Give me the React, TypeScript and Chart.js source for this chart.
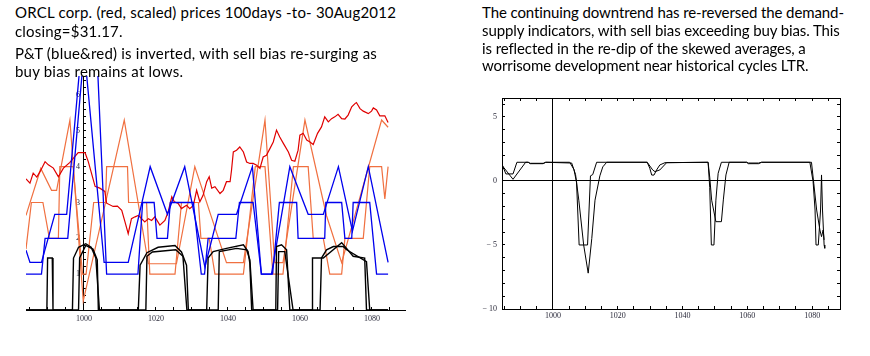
import React, { useEffect, useRef } from "react";
import { Chart, registerables } from "chart.js";
Chart.register(...registerables);

// ---------- text ----------
const leftNote = [
  "ORCL corp. (red, scaled) prices 100days -to- 30Aug2012",
  "closing=$31.17.",
  "P&T (blue&red) is inverted, with sell bias re-surging as",
  "buy bias remains at lows.",
];
const leftNoteBaselines = [17, 36, 58, 76];
const rightNote = [
  "The continuing downtrend has re-reversed the demand-",
  "supply indicators, with sell bias exceeding buy bias. This",
  "is reflected in the re-dip of the skewed averages, a",
  "worrisome development near historical cycles LTR.",
];
const rightNoteBaselines = [17, 35, 52.5, 70];

// ---------- left chart data (day, value) ----------
const priceScaled: [number, number][] = [
  [983.9,3.66],[985,3.54],[985.9,3.82],[986.9,3.71],[987.8,3.86],[989.2,4.14],[990.1,4.05],[991.5,3.96],[992.9,3.72],[994.3,3.96],
  [996.1,4.12],[998.4,4.39],[1000.3,4.39],[1001.2,4.14],[1003.1,3.45],[1004.4,3.40],[1005.8,3.31],[1006.3,2.98],[1008.1,2.89],[1009.3,2.90],
  [1010.5,2.78],[1011.4,2.46],[1012.3,2.13],[1013.2,2.55],[1014.2,2.60],[1015.1,2.64],[1016,2.55],[1016.9,2.46],[1017.9,2.55],[1018.8,2.50],
  [1019.7,2.60],[1021.1,2.37],[1022.5,2.50],[1023.4,2.74],[1024.4,3.16],[1025.1,3.02],[1026.2,2.97],[1027.1,2.83],[1028.5,2.92],[1029.4,2.83],
  [1030.4,2.92],[1031.3,3.34],[1032.2,3.02],[1033.1,3.20],[1034.1,3.58],[1034.8,3.72],[1035.5,3.40],[1036.4,3.44],[1037.8,3.25],[1038.7,3.34],
  [1039.6,3.58],[1040.6,3.58],[1041,3.90],[1041.5,4.41],[1042.4,4.46],[1043.3,4.55],[1044.3,4.41],[1045.2,4.13],[1046.1,4.09],[1047,4.09],
  [1048,4.04],[1048.9,3.95],[1049.8,4.27],[1050.7,4.32],[1051.7,4.51],[1052.6,4.69],[1053.5,5.02],[1054.4,4.83],[1055.4,4.65],[1056.8,4.41],
  [1057.7,4.18],[1058.6,4.15],[1059.5,4.46],[1060,4.88],[1060.9,4.93],[1061.9,4.74],[1062.8,4.69],[1063.7,4.62],[1064.9,4.93],[1066,5.11],
  [1066.9,5.39],[1067.9,5.25],[1068.8,5.34],[1069.7,5.39],[1070.6,5.46],[1071.6,5.34],[1072.5,5.33],[1073.4,5.44],[1074.4,5.67],[1075.3,5.76],
  [1075.7,5.79],[1076.7,5.62],[1077.6,5.55],[1079,5.48],[1079.9,5.55],[1080.4,5.64],[1081.3,5.58],[1082.2,5.42],[1083.6,5.42],[1084.5,5.23],
];
const blueTrend: [number, number][] = [
  [983.9,1.67],[985,1.33],[988.2,1.33],[991.9,2.67],[995.2,2.67],[998.6,6.5],[999.7,7.7],[1000.8,6.5],[1005.6,1.33],[1012.3,1.33],
  [1018.4,4.0],[1023.2,2.67],[1028,4.0],[1033.6,1.2],[1037.3,2.67],[1042.4,2.67],[1046.8,4.0],[1049.3,1.0],[1052.1,1.0],[1057.2,4.0],
  [1062.3,2.67],[1066.5,2.67],[1070.7,4.0],[1074.6,2.2],[1079,4.0],[1084.5,1.33],
];
const blueStep: [number, number][] = [
  [983.9,1.0],[988.2,1.0],[989.2,2.0],[995.5,2.0],[999.4,6.5],[1001.6,9.0],[1003.9,6.5],[1006.3,1.0],[1015,1.0],[1016.3,3.0],
  [1019.5,3.0],[1020.3,2.0],[1023.2,2.0],[1024,3.0],[1030.4,3.0],[1032.6,1.0],[1033.5,1.0],[1034.5,2.0],[1042.2,2.0],[1043.2,3.0],
  [1047,3.0],[1049.3,1.0],[1052.4,1.0],[1054.3,3.0],[1059.1,3.0],[1059.5,2.0],[1066.9,2.0],[1067.2,3.0],[1071.6,3.0],[1072.5,2.0],
  [1074.4,2.0],[1074.8,3.0],[1079.4,3.0],[1081.3,1.0],[1084.5,1.0],
];
const orangeTrend: [number, number][] = [
  [983.9,2.64],[988,3.95],[991,3.34],[992.4,3.34],[996.1,5.3],[999.8,0.25],[1011.2,5.3],[1017.9,1.29],[1025.7,1.29],[1030.8,4.0],
  [1039.6,1.32],[1044.3,1.32],[1050.3,5.3],[1053,1.32],[1055.3,1.32],[1061.4,5.3],[1067.4,2.63],[1071.6,1.32],[1082.7,5.3],[1084.5,5.1],
];
const orangeStep: [number, number][] = [
  [983.9,1.7],[985.4,3.0],[988.6,3.0],[990.4,2.0],[992.9,2.0],[993.3,4.0],[997,4.0],[999.6,1.0],[1000.6,1.0],[1002.7,3.0],
  [1006,3.0],[1006.3,4.0],[1012.1,4.0],[1012.4,3.0],[1017.4,3.0],[1018.3,1.0],[1025.3,1.0],[1027.1,3.0],[1031.8,3.0],[1032.5,2.0],
  [1034.8,2.0],[1036.4,1.0],[1044.3,1.0],[1047.6,4.0],[1050.3,4.0],[1052.5,1.0],[1055.3,1.0],[1058.2,4.0],[1062.3,4.0],[1063.7,2.0],
  [1066.5,2.0],[1068.3,1.0],[1071.6,1.0],[1072.5,2.0],[1077.6,2.0],[1079.4,4.0],[1082.7,4.0],[1083.6,3.1],[1084.5,4.0],
];
const blackBias1: [number, number][] = [
  [983.9,0],[989.7,0],[989.9,1.45],[991.2,1.45],[991.4,0],[996.8,0],[997.1,1.45],[998.5,1.75],[1000.5,1.85],[1002,1.75],
  [1003.3,1.45],[1004.3,0],[1015.1,0],[1015.6,1.25],[1017.5,1.6],[1020.6,1.75],[1025.3,1.8],[1027.1,1.62],[1028.5,1.25],[1029,0],
  [1034.1,0],[1034.5,1.45],[1035.9,1.63],[1039.6,1.72],[1044.3,1.82],[1045.6,1.63],[1046.1,1.3],[1046.6,0],[1053.3,0],[1053.5,1.77],
  [1054.9,1.82],[1056.3,1.68],[1057.2,0],[1063.4,0],[1063.5,1.45],[1066.5,1.45],[1071.6,1.88],[1074.8,1.5],[1078,1.45],[1078.5,0],
  [1084.5,0],
];
const blackBias2: [number, number][] = [
  [983.9,0],[998.5,0],[998.8,1.45],[1000.5,1.8],[1002.5,1.7],[1003.7,1.4],[1004,0],[1017.2,0],[1017.5,1.5],[1019,1.62],
  [1025.5,1.68],[1027.5,1.5],[1028.6,0],[1037.3,0],[1037.6,1.63],[1042.4,1.72],[1045.2,1.68],[1046.1,1.4],[1047,0],[1053.8,0],
  [1054.1,1.63],[1055.8,1.63],[1058.1,0],[1065.6,0],[1066,1.45],[1067.4,1.68],[1069.3,1.77],[1072,1.77],[1073,1.68],[1078.5,1.35],
  [1079.4,0],[1084.5,0],
];

// ---------- right chart data ----------
const skewAvg1: [number, number][] = [
  [984.2,1.38],[985.5,0.55],[987.7,0.55],[988.9,1.46],[992.4,1.46],[993,1.35],[997,1.35],[997.8,1.46],[1005.2,1.46],[1006.5,0.9],
  [1007.3,-0.1],[1008.1,-5.0],[1010.7,-5.0],[1011.6,0.4],[1012.3,0.5],[1013.5,1.46],[1029.1,1.46],[1029.9,1.0],[1030.5,0.46],[1031.2,0.46],
  [1032,0.86],[1033,1.25],[1034.6,1.43],[1047.9,1.46],[1048.4,-0.5],[1048.9,-5.0],[1049.7,-5.0],[1050.3,-1.5],[1051,0.6],[1052,1.46],
  [1059.8,1.46],[1060.3,1.35],[1063.5,1.35],[1064.4,1.46],[1079.3,1.46],[1080.3,-0.05],[1080.9,-2.27],[1081.2,-5.0],[1081.9,-5.0],[1082.6,-2.27],
  [1082.9,0.47],[1083.2,-2.27],[1083.7,-5.0],[1083.9,-5.26],
];
const skewAvg2: [number, number][] = [
  [984.2,1.25],[987.7,0.13],[991.6,1.46],[992.4,1.46],[993,1.38],[997,1.38],[997.8,1.46],[1005.8,1.40],[1007,0.5],[1008,-1.5],
  [1009.5,-5.0],[1010.9,-7.2],[1012,-4.5],[1013,-1.5],[1014.5,0.4],[1015.4,1.1],[1016.6,1.46],[1029.1,1.46],[1030.8,0.86],[1031.5,0.73],
  [1033,0.86],[1035.1,1.43],[1047.9,1.46],[1048.4,0.3],[1049,-1.5],[1050.3,-3.18],[1052,-3.18],[1052.6,-1.48],[1053.4,0.47],[1054.4,1.46],
  [1059.8,1.46],[1060.3,1.4],[1063.5,1.4],[1064.4,1.46],[1079.8,1.46],[1080.5,-0.18],[1081.4,-2.27],[1082.4,-3.83],[1082.9,-4.35],[1083.4,-3.83],
  [1083.7,-4.6],
];

// ---------- axes ----------
const leftXRange = [983.9, 1089.2];
const leftYRange = [0, 6.53];
const leftXLabels = [1000, 1020, 1040, 1060, 1080];
const leftXMinorStep = 5;
const leftYLabels = [1, 2, 3, 4, 5, 6];
const leftYMinorStep = 0.2;
const rightXRange = [984.3, 1088.6];
const rightYRange = [-10, 6.48];
const rightXLabels = [1000, 1020, 1040, 1060, 1080];
const rightXMinorStep = 5;
const rightYLabels = [-10, -5, 0, 5];
const rightYMinorStep = 1;

function stepTicks(lo: number, hi: number, step: number) {
  const out: number[] = [];
  const start = Math.ceil(lo / step - 1e-9);
  for (let k = start; k * step <= hi + 1e-9; k++) out.push(Math.round(k * step * 1000) / 1000);
  return out;
}
const isIn = (arr: number[], v: number) => arr.some((a) => Math.abs(a - v) < 1e-6);

const tickFont = { family: "'Liberation Serif', serif", size: 8 };
const tickColor = "#2a2a3a";
const line = (pts: [number, number][], color: string, width: number) => ({
  data: pts.map(([x, y]) => ({ x, y })),
  borderColor: color,
  borderWidth: width,
  pointRadius: 0,
  fill: false,
  tension: 0,
});

function LeftChart() {
  const ref = useRef<HTMLCanvasElement>(null);
  useEffect(() => {
    const xt = stepTicks(leftXRange[0], leftXRange[1], leftXMinorStep);
    const yt = stepTicks(leftYRange[0] + 0.01, leftYRange[1], leftYMinorStep);
    const chart = new Chart(ref.current!, {
      type: "line",
      data: {
        datasets: [
          line(blackBias1, "#000", 1.4),
          line(blackBias2, "#000", 1.4),
          line(blueTrend, "#0000ee", 1.3),
          line(blueStep, "#0000ee", 1.3),
          line(priceScaled, "#e00000", 1.2),
          line(orangeTrend, "#f07040", 1.2),
          line(orangeStep, "#f07040", 1.2),
        ] as any,
      },
      options: {
        responsive: false,
        animation: false,
        layout: { padding: { left: 26, top: 16, right: 25, bottom: 10 } },
        plugins: { legend: { display: false }, tooltip: { enabled: false } },
        scales: {
          x: {
            type: "linear",
            position: "bottom",
            min: leftXRange[0],
            max: leftXRange[1],
            afterBuildTicks: (s: any) => { s.ticks = xt.map((v) => ({ value: v })); },
            afterFit: (s: any) => { s.height = 20; },
            ticks: {
              autoSkip: false, maxRotation: 0, padding: 7, color: tickColor, font: tickFont,
              callback: (v: any) => (isIn(leftXLabels, v) ? String(v) : ""),
            },
            grid: { display: true, drawOnChartArea: false, drawTicks: true, tickLength: -3, tickColor: "#000" },
            border: { display: true, color: "#000", width: 1 },
          },
          y: {
            type: "linear",
            position: { x: 1000 } as any,
            min: leftYRange[0],
            max: leftYRange[1],
            afterBuildTicks: (s: any) => { s.ticks = yt.map((v) => ({ value: v })); },
            afterFit: (s: any) => { s.width = 0; },
            ticks: {
              autoSkip: false, padding: 6, color: tickColor, font: tickFont,
              callback: (v: any) => (isIn(leftYLabels, v) ? String(v) + "\u2002" : ""),
            },
            grid: { display: true, drawOnChartArea: false, drawTicks: true, tickLength: -3, tickColor: "#000" },
            border: { display: true, color: "#000", width: 1 },
          },
        },
      } as any,
    });
    return () => chart.destroy();
  }, []);
  return <canvas ref={ref} width={430} height={280} style={{ position: "absolute", left: 0, top: 60 }} />;
}

function RightChart() {
  const ref = useRef<HTMLCanvasElement>(null);
  useEffect(() => {
    const xt = stepTicks(rightXRange[0], rightXRange[1], rightXMinorStep);
    const yt = stepTicks(rightYRange[0], rightYRange[1], rightYMinorStep);
    const setX = (s: any) => { s.ticks = xt.map((v) => ({ value: v })); };
    const setY = (s: any) => { s.ticks = yt.map((v) => ({ value: v })); };
    const fmtY = (v: number) => (v < 0 ? "\u2212 " + Math.abs(v) : String(v));
    const frameX = (pos: string, labels: boolean, crossAt: number | null) => ({
      type: "linear",
      position: pos,
      min: rightXRange[0],
      max: rightXRange[1],
      afterBuildTicks: setX,
      afterFit: (s: any) => { s.height = labels ? 20 : 0; },
      ticks: {
        display: labels, autoSkip: false, maxRotation: 0, padding: 5, color: tickColor, font: tickFont,
        callback: (v: any) => (isIn(rightXLabels, v) ? String(v) : ""),
      },
      grid: {
        display: true,
        drawOnChartArea: crossAt !== null,
        color: (c: any) => (crossAt !== null && c.tick && Math.abs(c.tick.value - crossAt) < 1e-6 ? "#000" : "rgba(0,0,0,0)"),
        drawTicks: true, tickLength: -3, tickColor: "#000",
      },
      border: { display: true, color: "#000", width: 1 },
    });
    const frameY = (pos: string, labels: boolean, crossAt: number | null) => ({
      type: "linear",
      position: pos,
      min: rightYRange[0],
      max: rightYRange[1],
      afterBuildTicks: setY,
      afterFit: (s: any) => { s.width = labels ? 40 : 0; },
      ticks: {
        display: labels, autoSkip: false, padding: 8, color: tickColor, font: tickFont,
        callback: (v: any) => (isIn(rightYLabels, v) ? fmtY(v) : ""),
      },
      grid: {
        display: true,
        drawOnChartArea: crossAt !== null,
        color: (c: any) => (crossAt !== null && c.tick && Math.abs(c.tick.value - crossAt) < 1e-6 ? "#000" : "rgba(0,0,0,0)"),
        drawTicks: true, tickLength: -3, tickColor: "#000",
      },
      border: { display: true, color: "#000", width: 1 },
    });
    const chart = new Chart(ref.current!, {
      type: "line",
      data: {
        datasets: [line(skewAvg1, "#000", 1), line(skewAvg2, "#000", 1)] as any,
      },
      options: {
        responsive: false,
        animation: false,
        layout: { padding: { left: 22, top: 18, right: 30, bottom: 11 } },
        plugins: { legend: { display: false }, tooltip: { enabled: false } },
        scales: {
          x: frameX("bottom", true, 1000),
          x2: frameX("top", false, null),
          y: frameY("left", true, 0),
          y2: frameY("right", false, null),
        },
      } as any,
    });
    return () => chart.destroy();
  }, []);
  return <canvas ref={ref} width={430} height={260} style={{ position: "absolute", left: 440, top: 80 }} />;
}

const noteFont: React.CSSProperties = {
  position: "absolute",
  fontFamily: "Lato, 'Open Sans', sans-serif",
  fontSize: 15,
  lineHeight: "18px",
  color: "#000",
  whiteSpace: "nowrap",
  margin: 0,
};

export default function App() {
  return (
    <div style={{ position: "absolute", left: 0, top: 0, width: 870, height: 356, background: "#fff", overflow: "hidden" }}>
      <LeftChart />
      <RightChart />
      {leftNote.map((t, i) => (
        <div key={"l" + i} style={{ ...noteFont, letterSpacing: "0.2px", left: 15, top: leftNoteBaselines[i] - 14 }}>{t}</div>
      ))}
      {rightNote.map((t, i) => (
        <div key={"r" + i} style={{ ...noteFont, letterSpacing: "-0.1px", left: 482, top: rightNoteBaselines[i] - 14 }}>{t}</div>
      ))}
    </div>
  );
}
